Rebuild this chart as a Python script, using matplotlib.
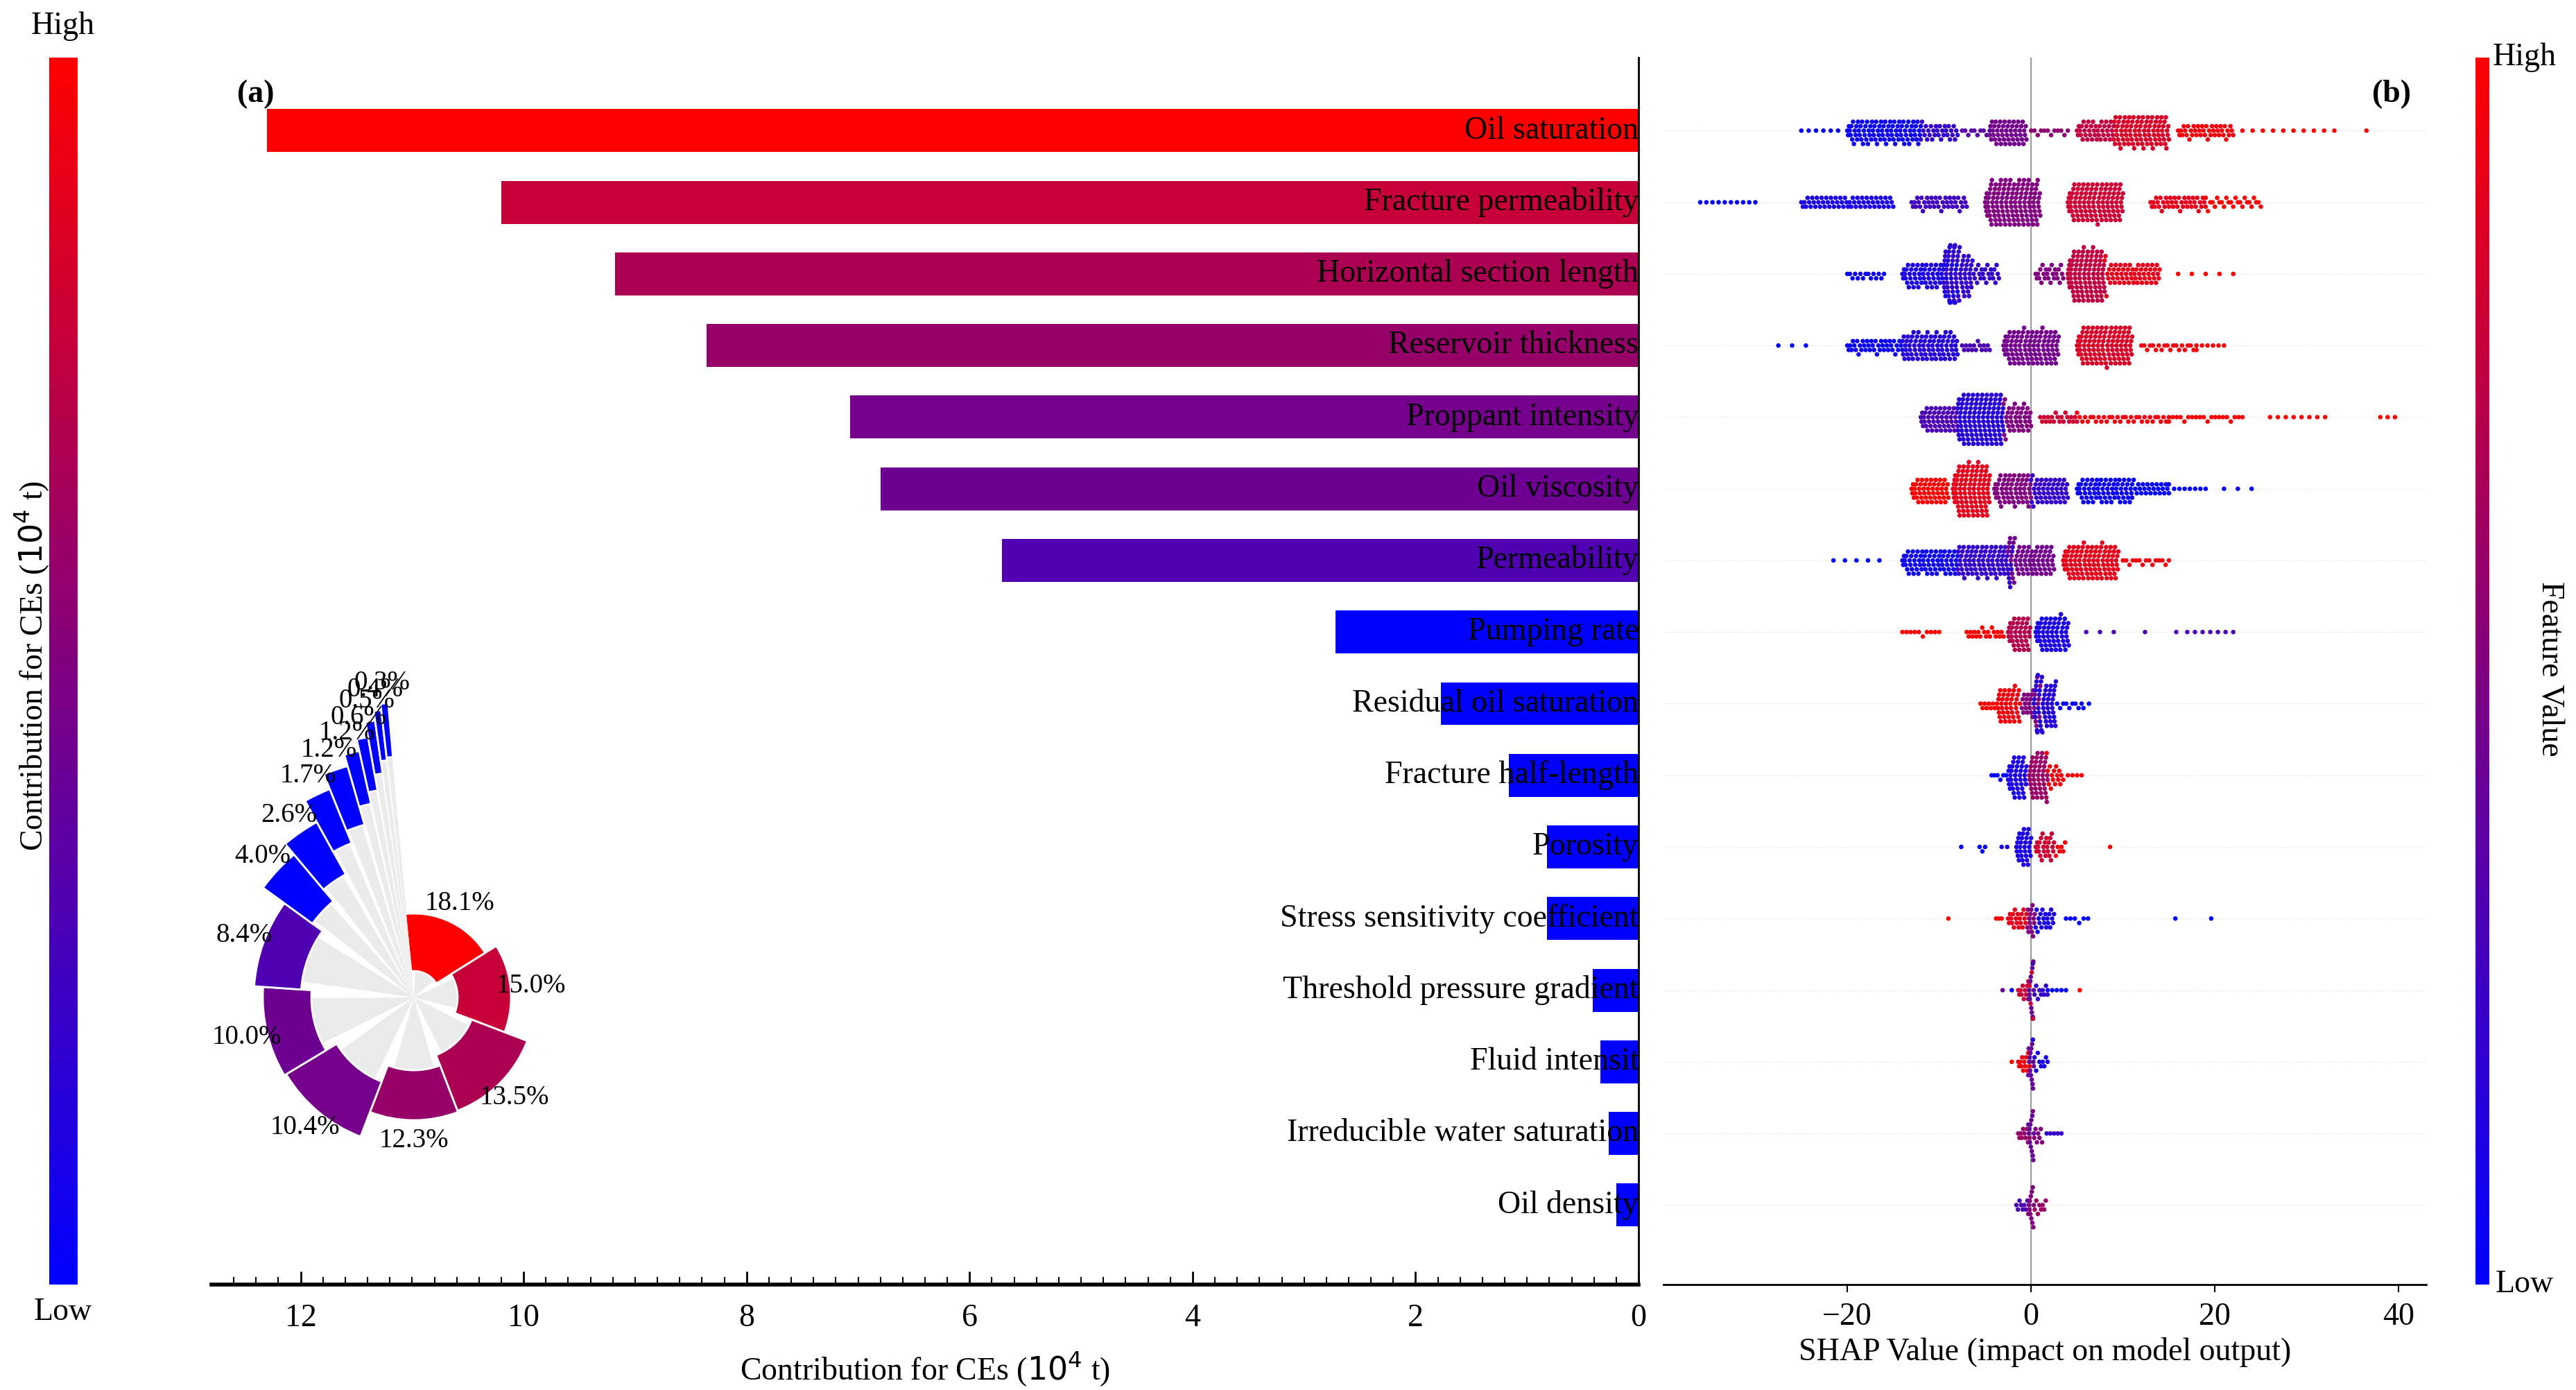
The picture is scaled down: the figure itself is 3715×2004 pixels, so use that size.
import numpy as np
import matplotlib
matplotlib.use("Agg")
import matplotlib.pyplot as plt
from matplotlib.colors import LinearSegmentedColormap, Normalize
from matplotlib.colorbar import ColorbarBase

plt.rcParams['font.family'] = ['Liberation Serif', 'DejaVu Serif']
plt.rcParams['axes.unicode_minus'] = True

# ---- data ----
features = ['Oil saturation', 'Fracture permeability', 'Horizontal section length',
            'Reservoir thickness', 'Proppant intensity', 'Oil viscosity', 'Permeability',
            'Pumping rate', 'Residual oil saturation', 'Fracture half-length', 'Porosity',
            'Stress sensitivity coefficient', 'Threshold pressure gradient', 'Fluid intensit',
            'Irreducible water saturation', 'Oil density']
contrib = [12.3, 10.2, 9.18, 8.36, 7.07, 6.8, 5.71, 2.72, 1.77, 1.16, 0.82, 0.82,
           0.41, 0.34, 0.27, 0.2]
percent = [18.1, 15.0, 13.5, 12.3, 10.4, 10.0, 8.4, 4.0, 2.6, 1.7, 1.2, 1.2, 0.6, 0.5, 0.4, 0.3]

# SHAP swarm: (shap centre, half width, count, feature value 0..1)
shap_groups = [
    [(-23, 2, 6, 0.0), (-16, 4, 90, 0.05), (-10, 2, 30, 0.2), (-6, 1.5, 10, 0.35), (-2.5, 2, 50, 0.45),
     (2, 2, 12, 0.55), (7, 2, 40, 0.75), (12, 3, 90, 0.85), (19, 3, 40, 0.95), (28, 5, 10, 1.0), (36.5, 0.3, 1, 1.0)],
    [(-33, 3, 10, 0.0), (-20, 5, 60, 0.1), (-10, 3, 40, 0.25), (-2, 3, 130, 0.5), (7, 3, 110, 0.8),
     (16, 3, 40, 0.9), (22, 3, 25, 1.0)],
    [(-18, 2, 15, 0.05), (-11, 3, 70, 0.1), (-8, 1.5, 60, 0.2), (-5, 1.5, 25, 0.2), (2, 1.5, 25, 0.5),
     (6, 2, 100, 0.75), (11, 3, 60, 0.9), (19, 3, 5, 1.0)],
    [(-26, 1.5, 3, 0.0), (-17, 3, 40, 0.05), (-11, 3, 80, 0.15), (-6, 1.5, 15, 0.3), (0, 3, 100, 0.45),
     (8, 3, 110, 0.85), (15, 3, 20, 0.95), (19.5, 1.5, 6, 1.0)],
    [(-10, 2, 50, 0.3), (-5.5, 2.5, 120, 0.15), (-1.5, 1.5, 40, 0.5), (3, 2, 20, 0.8), (10, 5, 35, 0.95),
     (19, 4, 20, 1.0), (29, 3, 8, 1.0), (38.8, 0.8, 3, 1.0)],
    [(-11, 2, 50, 1.0), (-6.5, 2, 100, 0.9), (-2, 2, 60, 0.5), (2, 2, 50, 0.2), (8, 3, 70, 0.05),
     (13, 2, 25, 0.0), (17, 2, 8, 0.0), (22.5, 1.5, 3, 0.0)],
    [(-19, 2.5, 5, 0.0), (-11, 3, 70, 0.05), (-5, 3, 90, 0.2), (0, 2.5, 70, 0.45), (6.5, 3, 100, 0.9),
     (12.5, 2.5, 15, 0.95)],
    [(-12, 2, 10, 1.0), (-5, 2, 20, 1.0), (-1.3, 1.2, 40, 0.7), (2.3, 1.8, 60, 0.1), (7.5, 1.5, 3, 0.3),
     (12.4, 0.3, 1, 0.3), (15.8, 0.3, 1, 0.3), (19.5, 2.5, 7, 0.3)],
    [(-4.5, 1, 10, 1.0), (-2.4, 1.2, 40, 0.95), (0, 1, 25, 0.5), (1.5, 1.2, 50, 0.15), (4, 1.5, 10, 0.05),
     (6, 0.3, 2, 0.0)],
    [(-3.5, 0.8, 6, 0.0), (-1.5, 1, 40, 0.1), (0.8, 1, 45, 0.6), (2.5, 0.8, 15, 0.95), (4.5, 1, 5, 1.0)],
    [(-7.6, 0.2, 1, 0.0), (-5.3, 0.3, 3, 0.0), (-2.9, 0.3, 2, 0.1), (-0.8, 0.8, 30, 0.1), (1.5, 1, 25, 0.8),
     (3.2, 0.5, 6, 0.95), (8.6, 0.2, 1, 1.0)],
    [(-9, 0.2, 1, 1.0), (-3.5, 0.3, 3, 1.0), (-1.5, 1, 20, 0.9), (0, 0.4, 14, 0.5), (1.5, 1, 20, 0.1),
     (5, 1.2, 6, 0.0), (15.7, 0.2, 1, 0.0), (19.6, 0.2, 1, 0.0)],
    [(-3.1, 0.2, 1, 0.4), (-2.1, 0.2, 1, 0.0), (-0.6, 0.8, 14, 0.8), (0, 0.3, 12, 0.4), (1, 0.8, 10, 0.2),
     (2.8, 1, 5, 0.0), (5.3, 0.2, 1, 1.0)],
    [(-2.1, 0.2, 1, 1.0), (-0.8, 0.6, 12, 0.95), (0, 0.3, 14, 0.4), (1, 0.8, 10, 0.1)],
    [(-0.8, 0.6, 10, 0.6), (0, 0.3, 12, 0.4), (0.7, 0.5, 8, 0.5), (2.5, 0.8, 5, 0.2)],
    [(-1, 0.6, 8, 0.3), (0, 0.3, 12, 0.5), (1, 0.6, 8, 0.6)],
]

# polar inset layout (angles in degrees, radii in pixels)
pol_edges = [96, 32, -21, -69, -111, -149, -184, -216, -230, -241, -248, -254, -257.5, -260, -262, -263.5, -265]
pol_bottom = [38, 63, 89, 105, 130, 148, 163, 181, 203, 240, 259, 286, 303, 326, 344, 348]
pol_top = [121, 140, 175, 177, 215, 218, 231, 269, 289, 324, 347, 364, 381, 403, 417, 426]

cmap = LinearSegmentedColormap.from_list('br', ['#0000ff', '#ff0000'])
norm = Normalize(vmin=2.72, vmax=12.3)

W, H = 3715, 2004
fig = plt.figure(figsize=(W / 100, H / 100), dpi=100)


def rect(x0, y0, x1, y1):
    return [x0 / W, 1 - y1 / H, (x1 - x0) / W, (y1 - y0) / H]


n = len(features)
ypos = np.arange(n)
ylim = (n - 1 + 1.11, -1.02)
fs = 33

# ---- (a) bar chart ----
ax = fig.add_axes(rect(305, 83, 2363, 1852))
ax.barh(ypos, contrib, height=0.6, color=cmap(norm(contrib)))
for i, name in enumerate(features):
    ax.text(0, i, name, ha='right', va='center', fontsize=fs)
ax.set_xlim(12.8, 0)
ax.set_ylim(*ylim)
ax.set_yticks([])
for s in ['top', 'left']:
    ax.spines[s].set_visible(False)
ax.spines['bottom'].set_linewidth(4)
ax.spines['right'].set_linewidth(2)
ax.set_xticks(np.arange(0, 13, 2))
ax.set_xticks(np.arange(0, 12.8, 0.2), minor=True)
ax.tick_params(axis='x', direction='in', labelsize=fs, length=14, width=2, pad=20)
ax.tick_params(axis='x', which='minor', direction='in', length=8, width=1.5)
ax.set_xlabel('Contribution for CEs ($10^4$ t)', fontsize=fs, labelpad=18)
ax.text(369, H - 136, '(a)', transform=None, fontsize=fs, fontweight='bold', ha='center', va='center')

# ---- left colorbar ----
cax = fig.add_axes(rect(71, 83, 112, 1852))
ColorbarBase(cax, cmap=cmap, norm=Normalize(0, 1), orientation='vertical')
cax.set_axis_off()
fig.text(91 / W, 1 - 38 / H, 'High', ha='center', va='center', fontsize=fs)
fig.text(91 / W, 1 - 1892 / H, 'Low', ha='center', va='center', fontsize=fs)
fig.text(46 / W, 1 - 960 / H, 'Contribution for CEs ($10^4$ t)', rotation=90,
         ha='center', va='center', fontsize=fs)

# ---- (b) SHAP beeswarm ----
bx = fig.add_axes(rect(2399, 83, 3499, 1852))
binw, step, ymax = 0.5, 0.062, 0.4
for i, groups in enumerate(shap_groups):
    xs, cs = [], []
    for c, hw, cnt, val in groups:
        xs.extend(np.linspace(c - hw, c + hw, cnt) if cnt > 1 else [c])
        cs.extend([val] * cnt)
    xs = np.array(xs)
    cs = np.array(cs)
    order = np.argsort(xs)
    xs, cs = xs[order], cs[order]
    bins = np.round(xs / binw).astype(int)
    ys = np.zeros_like(xs)
    counts = {}
    for k, b in enumerate(bins):
        m = counts.get(b, 0)
        counts[b] = m + 1
        off = ((m + 1) // 2) * step * (1 if m % 2 else -1)
        ys[k] = np.clip(off, -ymax, ymax)
    bx.axhline(i, color='#dddddd', lw=0.8, ls=':', zorder=0)
    bx.scatter(xs, i + ys, c=cmap(cs), s=22, linewidths=0, zorder=3)
bx.axvline(0, color='#999999', lw=1.5, zorder=1)
bx.set_xlim(-40, 43)
bx.set_ylim(*ylim)
bx.set_yticks([])
for s in ['top', 'left', 'right']:
    bx.spines[s].set_visible(False)
bx.spines['bottom'].set_linewidth(2)
bx.set_xticks([-20, 0, 20, 40])
bx.tick_params(axis='x', labelsize=fs, length=8, width=1.5, pad=10)
bx.set_xlabel('SHAP Value (impact on model output)', fontsize=fs, labelpad=6)
bx.text(3449, H - 136, '(b)', transform=None, fontsize=fs, fontweight='bold', ha='center', va='center')

# ---- right colorbar ----
rax = fig.add_axes(rect(3570, 83, 3590, 1852))
ColorbarBase(rax, cmap=cmap, norm=Normalize(0, 1), orientation='vertical')
rax.set_axis_off()
fig.text(3641 / W, 1 - 83 / H, 'High', ha='center', va='center', fontsize=fs)
fig.text(3641 / W, 1 - 1852 / H, 'Low', ha='center', va='center', fontsize=fs)
fig.text(3677 / W, 1 - 964 / H, 'Feature Value', rotation=270, ha='center', va='center', fontsize=fs)

# ---- polar inset ----
cx, cy, R = 597, 1438, 440
pax = fig.add_axes(rect(cx - R, cy - R, cx + R, cy + R), projection='polar')
pax.set_ylim(0, R)
for i, p in enumerate(percent):
    a0, a1 = np.deg2rad(pol_edges[i]), np.deg2rad(pol_edges[i + 1])
    mid, wid = (a0 + a1) / 2, abs(a1 - a0)
    pax.bar(mid, pol_bottom[i], width=wid * 0.75, bottom=0, color='#ebebeb', linewidth=0)
    pax.bar(mid, pol_top[i] - pol_bottom[i], width=wid, bottom=pol_bottom[i],
            color=cmap(norm(contrib[i])), edgecolor='white', linewidth=2)
    pax.text(mid, pol_top[i] + 30, f'{p:.1f}%', ha='center', va='center', fontsize=28, clip_on=False)
pax.set_axis_off()

fig.savefig('out.png', dpi=100)
